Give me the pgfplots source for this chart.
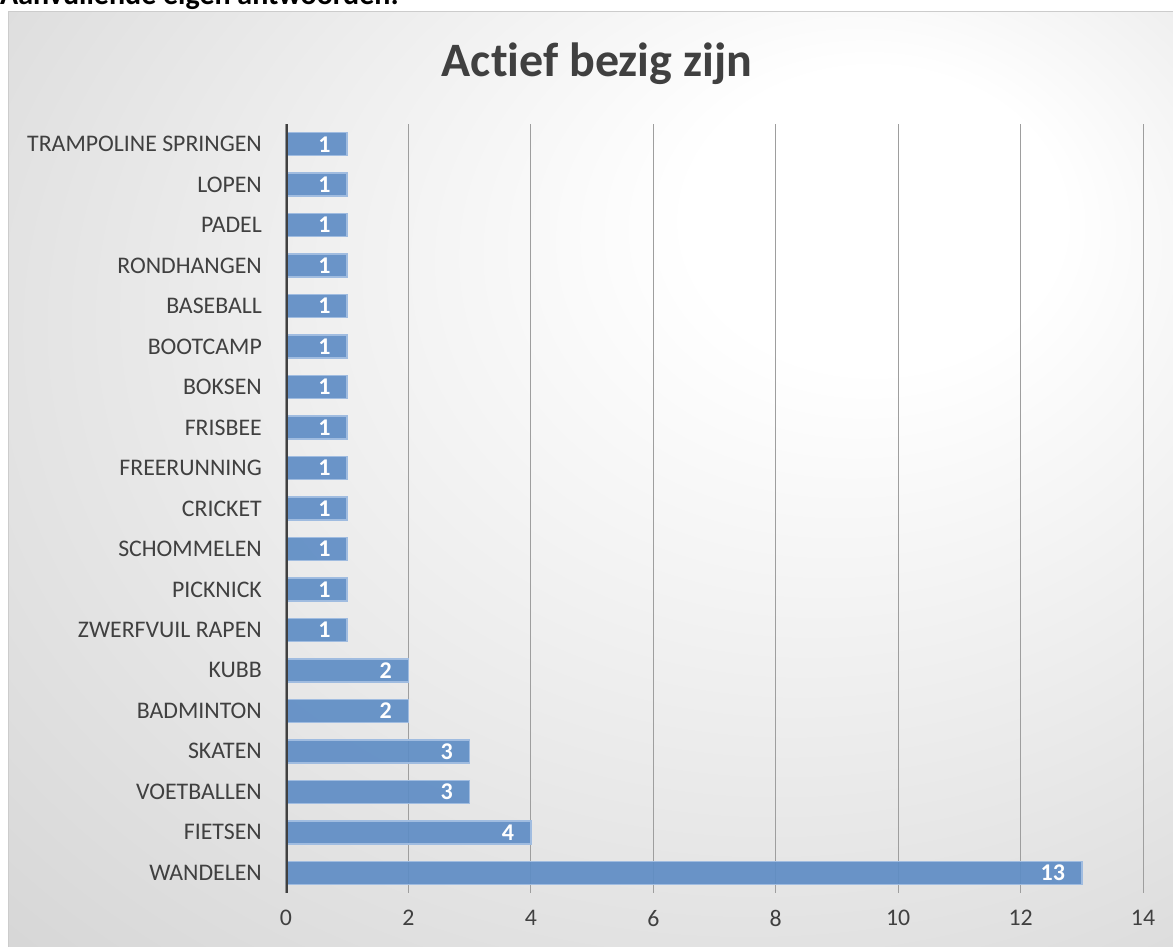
\documentclass[border=0pt]{standalone}
\usepackage{pgfplots}
\pgfplotsset{compat=1.18}
\usepackage{fontspec}
\setmainfont{Carlito}[Ligatures={NoCommon}]
\definecolor{barfill}{RGB}{95,141,197}
\definecolor{barline}{RGB}{160,188,224}
\definecolor{txt}{RGB}{64,64,64}
\definecolor{titlec}{RGB}{64,64,64}
\pgfdeclareradialshading{bgshade}{\pgfpoint{14bp}{16bp}}{color(0bp)=(white); color(8bp)=(white); color(62bp)=(black!25)}
\begin{document}
\begin{tikzpicture}
\useasboundingbox (0,0) rectangle (1173pt,947pt);
\clip (0,0) rectangle (1173pt,947pt);
\fill[white] (0,0) rectangle (1173pt,947pt);
\shade[shading=bgshade] (8pt,0pt) rectangle (1174pt,935pt);
\draw[black!20, line width=1pt] (8pt,-2pt) rectangle (1175pt,935pt);
\node[anchor=base west, inner sep=0pt, font=\bfseries\fontsize{30}{34}\selectfont] at (0pt,942pt) {Aanvullende eigen antwoorden:};
\node[anchor=base, inner sep=0pt, font=\bfseries\fontsize{48}{54}\selectfont, text=titlec] at (597pt,870pt) {Actief bezig zijn};
\begin{axis}[
  at={(286pt,54pt)}, anchor=south west,
  scale only axis, width=857pt, height=769pt,
  xbar, bar width=23pt,
  xmin=0, xmax=14, ymin=-0.5, ymax=18.5,
  xtick={0,2,...,14},
  ytick={0,...,18},
  yticklabels={WANDELEN,FIETSEN,VOETBALLEN,SKATEN,BADMINTON,KUBB,ZWERFVUIL RAPEN,PICKNICK,SCHOMMELEN,CRICKET,FREERUNNING,FRISBEE,BOKSEN,BOOTCAMP,BASEBALL,RONDHANGEN,PADEL,LOPEN,TRAMPOLINE SPRINGEN},
  major tick length=0pt,
  axis line style={draw=none},
  xmajorgrids, ymajorgrids=false,
  major grid style={black!38, line width=1pt},
  /pgf/number format/assume math mode=true,
  ticklabel style={font=\fontsize{23.8}{28}\selectfont, text=txt, inner sep=0pt},
  yticklabel style={xshift=-24pt},
  xticklabel style={yshift=-17pt},
  nodes near coords,
  every node near coord/.append style={anchor=east, xshift=-16pt, inner sep=0pt, font=\bfseries\fontsize{24}{28}\selectfont, text=white, opacity=1, text opacity=1},
]
\addplot[fill=barfill, fill opacity=0.92, draw=barline, line width=1.5pt] coordinates {
(13,0) (4,1) (3,2) (3,3) (2,4) (2,5) (1,6) (1,7) (1,8) (1,9) (1,10) (1,11) (1,12) (1,13) (1,14) (1,15) (1,16) (1,17) (1,18)
};
\draw[line width=3.5pt, black!75] (axis cs:0,-0.5) -- (axis cs:0,18.5);
\end{axis}
\end{tikzpicture}
\end{document}
